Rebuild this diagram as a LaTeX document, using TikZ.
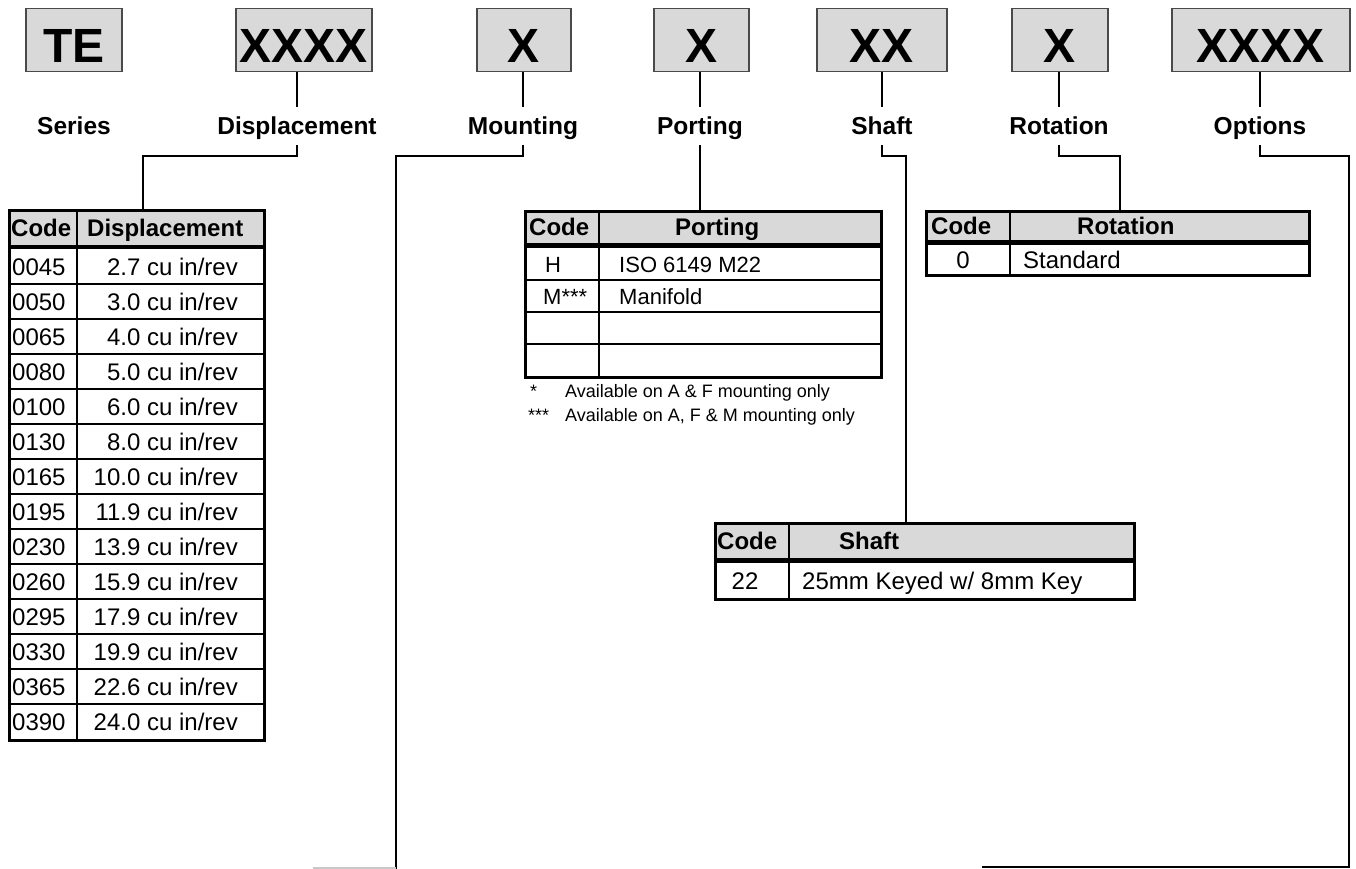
\documentclass[tikz,border=0pt]{standalone}
\usepackage{fontspec}
\setmainfont{Liberation Sans}
\newcommand\myBig{\fontsize{48}{52}\selectfont\bfseries}
\newcommand\myLbl{\fontsize{24.5}{28}\selectfont\bfseries}
\newcommand\myHd{\fontsize{24}{28}\selectfont\bfseries}
\newcommand\myBody{\fontsize{24}{28}\selectfont}
\newcommand\myPort{\fontsize{22}{26}\selectfont}
\newcommand\myNote{\fontsize{18}{22}\selectfont}
\definecolor{hdgray}{HTML}{D9D9D9}
\definecolor{boxedge}{HTML}{4A4A4A}
\definecolor{faint}{HTML}{C8C8C8}
\begin{document}
\begin{tikzpicture}[x=1pt,y=-1pt,
  topbox/.style={draw=boxedge, line width=1.5pt, fill=hdgray, inner sep=0pt, font=\myBig, anchor=north west, minimum height=63pt, text height=45pt, text depth=0.6pt},
  lbl/.style={font=\myLbl, inner sep=0pt, minimum height=38pt, text height=23pt, text depth=5pt},
  conn/.style={line width=2pt},
  tbl/.style={draw, line width=2.5pt, inner sep=0pt, anchor=north west},
  gridline/.style={line width=2pt},
  hdrule/.style={line width=4.5pt},
  cellw/.style={inner sep=0pt, anchor=base west},
  celle/.style={inner sep=0pt, anchor=base east},
  cellc/.style={inner sep=0pt, anchor=base},
  hd/.style={font=\myHd},
  bd/.style={font=\myBody},
  pt/.style={font=\myPort},
  nt/.style={font=\myNote}]
\useasboundingbox (0,0) rectangle (1356,869);

% top code boxes
\node[topbox, minimum width=96pt]  (bTE)    at (25,8)   {TE};
\node[topbox, minimum width=136pt] (bDisp)  at (235,8)  {XXXX};
\node[topbox, minimum width=94pt]  (bMount) at (476,8)  {X};
\node[topbox, minimum width=95pt]  (bPort)  at (653,8)  {X};
\node[topbox, minimum width=130pt] (bShaft) at (816,8)  {XX};
\node[topbox, minimum width=96pt]  (bRot)   at (1011,8) {X};
\node[topbox, minimum width=178pt] (bOpt)   at (1171,8) {XXXX};

% labels
\node[lbl] (lSeries) at (74,126)   {Series};
\node[lbl] (lDisp)   at (297,126)  {Displacement};
\node[lbl] (lMount)  at (523,126)  {Mounting};
\node[lbl] (lPort)   at (700,126)  {Porting};
\node[lbl] (lShaft)  at (882,126)  {Shaft};
\node[lbl] (lRot)    at (1059,126) {Rotation};
\node[lbl] (lOpt)    at (1260,126) {Options};

% ---------------- Displacement table
\fill[hdgray] (8,209) rectangle (263,245);
\draw[hdrule] (8,247) -- (263,247);
\foreach \i in {1,...,13} \draw[gridline] (8,{249+35*\i}) -- (263,{249+35*\i});
\draw[gridline] (77,209) -- (77,739);
\node[tbl, minimum width=255pt, minimum height=530pt] (tDisp) at (8,209) {};
\node[cellw, hd] (hDc) at (11,236) {Code};
\node[cellw, hd] (hDd) at (87,236) {Displacement};
\foreach \c/\v [count=\i from 0] in {0045/2.7,0050/3.0,0065/4.0,0080/5.0,0100/6.0,0130/8.0,0165/10.0,0195/11.9,0230/13.9,0260/15.9,0295/17.9,0330/19.9,0365/22.6,0390/24.0}{
  \node[cellw, bd] (dc\i) at (12,{275.5+35*\i}) {\c};
  \node[celle, bd] (dv\i) at (238,{275.5+35*\i}) {\v\ cu in/rev};
}

% ---------------- Porting table
\fill[hdgray] (524,210) rectangle (880,243);
\draw[hdrule] (524,245.5) -- (880,245.5);
\foreach \y in {280,312,344} \draw[gridline] (524,\y) -- (880,\y);
\draw[gridline] (599,210) -- (599,376);
\node[tbl, minimum width=356pt, minimum height=166pt] (tPort) at (524,210) {};
\node[cellw, hd] (hPc) at (529,235) {Code};
\node[cellw, hd] (hPp) at (675,235) {Porting};
\node[cellw, pt] (pc1) at (545,272) {H};
\node[cellw, pt] (pv1) at (619,272) {ISO 6149 M22};
\node[cellw, pt] (pc2) at (543,304) {M***};
\node[cellw, pt] (pv2) at (619,304) {Manifold};
\node[cellw, nt] (fa1) at (530,397) {*};
\node[cellw, nt] (ft1) at (565,397) {Available on A \& F mounting only};
\node[cellw, nt] (fa2) at (528,421) {***};
\node[cellw, nt] (ft2) at (565,421) {Available on A, F \& M mounting only};

% ---------------- Shaft table
\fill[hdgray] (714,522) rectangle (1133,558);
\draw[hdrule] (714,560.5) -- (1133,560.5);
\draw[gridline] (789,522) -- (789,598);
\node[tbl, minimum width=419pt, minimum height=76pt] (tShaft) at (714,522) {};
\node[cellw, hd] (hSc) at (717,549) {Code};
\node[cellw, hd] (hSs) at (839,549) {Shaft};
\node[cellc, bd] (sc1) at (745,589.5) {22};
\node[cellw, bd] (sv1) at (802,589.5) {25mm Keyed w/ 8mm Key};

% ---------------- Rotation table
\fill[hdgray] (925,210) rectangle (1308,240);
\draw[hdrule] (925,242.5) -- (1308,242.5);
\draw[gridline] (1010,210) -- (1010,274);
\node[tbl, minimum width=383pt, minimum height=64pt] (tRot) at (925,210) {};
\node[cellw, hd] (hRc) at (931,234) {Code};
\node[cellw, hd] (hRr) at (1077,234) {Rotation};
\node[cellc, bd] (rc1) at (963,268.5) {0};
\node[cellw, bd] (rv1) at (1023,268.5) {Standard};

% ---------------- connectors
\coordinate (dIn) at (143,209);
\coordinate (mEnd) at (396,869);
\coordinate (mTail) at (313,868);
\coordinate (sIn) at (906,522);
\coordinate (rIn) at (1120,210);
\coordinate (oCorner) at (1349,867);
\coordinate (oEnd) at (982,867);

\foreach \b/\l in {bDisp/lDisp,bMount/lMount,bPort/lPort,bShaft/lShaft,bRot/lRot,bOpt/lOpt}
  \draw[conn] (\l.north |- \b.south) -- (\l.north);

\draw[conn] (lDisp.south) -- ++(0,11) -| (dIn);
\draw[conn] (lMount.south) -- ++(0,11) -| (mEnd);
\draw[faint, line width=2pt] (mEnd |- mTail) -- (mTail);
\draw[conn] (lPort.south) -- (lPort.south |- tPort.north);
\draw[conn] (lShaft.south) -- ++(0,11) -| (sIn);
\draw[conn] (lRot.south) -- ++(0,11) -| (rIn);
\draw[conn] (lOpt.south) -- ++(0,11) -| (oCorner) -- (oEnd);
\end{tikzpicture}
\end{document}
